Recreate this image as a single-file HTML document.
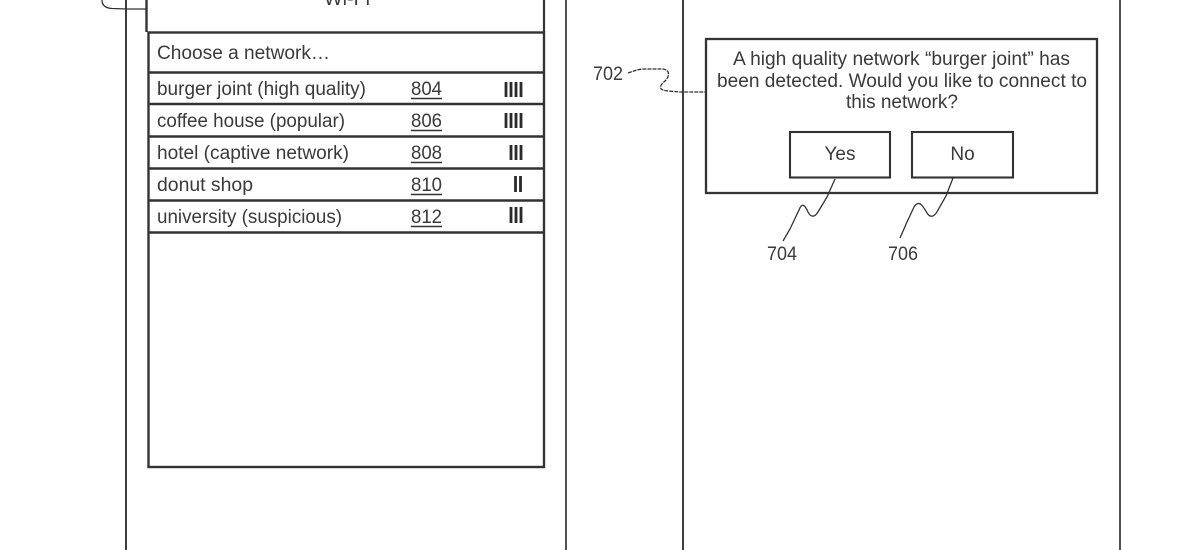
<!DOCTYPE html>
<html><head><meta charset="utf-8"><style>
html,body{margin:0;padding:0;background:#fff;}
svg{display:block;}
text{font-family:"Liberation Sans",Arial,sans-serif;fill:#3a3a3a;font-size:19px;}
</style></head><body>
<svg width="1200" height="550" viewBox="0 0 1200 550" xmlns="http://www.w3.org/2000/svg">
<g fill="none" stroke="#333">
  <!-- left phone -->
  <line x1="126" y1="0" x2="126" y2="550" stroke-width="1.9"/>
  <line x1="566" y1="0" x2="566" y2="550" stroke-width="1.7"/>
  <!-- right phone -->
  <line x1="683" y1="0" x2="683" y2="550" stroke-width="1.9"/>
  <line x1="1120" y1="0" x2="1120" y2="550" stroke-width="1.7"/>
  <!-- header box -->
  <line x1="146.5" y1="0" x2="146.5" y2="32" stroke-width="2.4"/>
  <line x1="544" y1="0" x2="544" y2="32" stroke-width="2.2"/>
  <!-- list box -->
  <rect x="148.5" y="32.5" width="395.5" height="434.5" stroke-width="2.4"/>
  <line x1="148" y1="72.5" x2="544" y2="72.5" stroke-width="2.4"/>
  <line x1="148" y1="104" x2="544" y2="104" stroke-width="2.6"/>
  <line x1="148" y1="136.5" x2="544" y2="136.5" stroke-width="2.6"/>
  <line x1="148" y1="168.5" x2="544" y2="168.5" stroke-width="2.6"/>
  <line x1="148" y1="200.5" x2="544" y2="200.5" stroke-width="2.6"/>
  <line x1="148" y1="232.5" x2="544" y2="232.5" stroke-width="2.6"/>
  <!-- dialog -->
  <rect x="706" y="39" width="391" height="154" stroke-width="2.3"/>
  <rect x="790" y="132" width="100" height="45.5" stroke-width="2.1"/>
  <rect x="912" y="132" width="101" height="45.5" stroke-width="2.1"/>
  <!-- leaders -->
  <path d="M102,0 C102,4 104,8 112,8.5 L127,9 L146,9" stroke-width="1.3"/>
  <path d="M628,73 C634,71 638,69 645,69 L663,69 C670,70 670,76 665,81 C659,86 658,90 668,91 L680,92 L706,92" stroke-width="1.3" stroke-dasharray="4,1"/>
  <path d="M835,179 L827,197 L818,212 C815,217 811,218 808,212 C805,205 802,202 799,210 L790,229 L783,241" stroke-width="1.3"/>
  <path d="M953,178 L946,196 L938,210 C935,216 931,219 927,213 C923,206 919,199 914,207 L907,222 L900,238" stroke-width="1.3"/>
  <!-- underlines -->
  <g stroke-width="1.5">
    <line x1="411" y1="98.5" x2="442" y2="98.5"/>
    <line x1="411" y1="130.5" x2="442" y2="130.5"/>
    <line x1="411" y1="162.5" x2="442" y2="162.5"/>
    <line x1="411" y1="194.5" x2="442" y2="194.5"/>
    <line x1="411" y1="226.5" x2="442" y2="226.5"/>
  </g>
  <!-- signal bars -->
  <g stroke-width="2.8" stroke="#2a2a2a">
    <line x1="506" y1="82" x2="506" y2="97"/><line x1="511" y1="82" x2="511" y2="97"/><line x1="516" y1="82" x2="516" y2="97"/><line x1="521" y1="82" x2="521" y2="97"/>
    <line x1="506" y1="113" x2="506" y2="128"/><line x1="511" y1="113" x2="511" y2="128"/><line x1="516" y1="113" x2="516" y2="128"/><line x1="521" y1="113" x2="521" y2="128"/>
    <line x1="511" y1="145" x2="511" y2="160"/><line x1="516" y1="145" x2="516" y2="160"/><line x1="521" y1="145" x2="521" y2="160"/>
    <line x1="515.5" y1="176" x2="515.5" y2="192"/><line x1="520.5" y1="176" x2="520.5" y2="192"/>
    <line x1="511" y1="207" x2="511" y2="223"/><line x1="516" y1="207" x2="516" y2="223"/><line x1="521" y1="207" x2="521" y2="223"/>
  </g>
</g>
<g>
  <text x="324" y="5" textLength="46" lengthAdjust="spacingAndGlyphs">Wi-Fi</text>
  <text x="157" y="59" textLength="173" lengthAdjust="spacingAndGlyphs">Choose a network…</text>
  <text x="157" y="95" textLength="209" lengthAdjust="spacingAndGlyphs">burger joint (high quality)</text>
  <text x="157" y="127" textLength="188" lengthAdjust="spacingAndGlyphs">coffee house (popular)</text>
  <text x="157" y="159" textLength="192" lengthAdjust="spacingAndGlyphs">hotel (captive network)</text>
  <text x="157" y="191" textLength="96" lengthAdjust="spacingAndGlyphs">donut shop</text>
  <text x="157" y="223" textLength="185" lengthAdjust="spacingAndGlyphs">university (suspicious)</text>
  <text x="411" y="95" textLength="31" lengthAdjust="spacingAndGlyphs">804</text>
  <text x="411" y="127" textLength="31" lengthAdjust="spacingAndGlyphs">806</text>
  <text x="411" y="159" textLength="31" lengthAdjust="spacingAndGlyphs">808</text>
  <text x="411" y="191" textLength="31" lengthAdjust="spacingAndGlyphs">810</text>
  <text x="411" y="223" textLength="31" lengthAdjust="spacingAndGlyphs">812</text>
  <text x="593" y="80" textLength="30" lengthAdjust="spacingAndGlyphs">702</text>
  <text x="733" y="65" textLength="337" lengthAdjust="spacingAndGlyphs">A high quality network “burger joint” has</text>
  <text x="717" y="87" textLength="370" lengthAdjust="spacingAndGlyphs">been detected. Would you like to connect to</text>
  <text x="902" y="108" text-anchor="middle">this network?</text>
  <text x="840" y="160" text-anchor="middle">Yes</text>
  <text x="962.5" y="160" text-anchor="middle">No</text>
  <text x="767" y="260" textLength="30" lengthAdjust="spacingAndGlyphs">704</text>
  <text x="888" y="260" textLength="30" lengthAdjust="spacingAndGlyphs">706</text>
</g>
</svg>
</body></html>
